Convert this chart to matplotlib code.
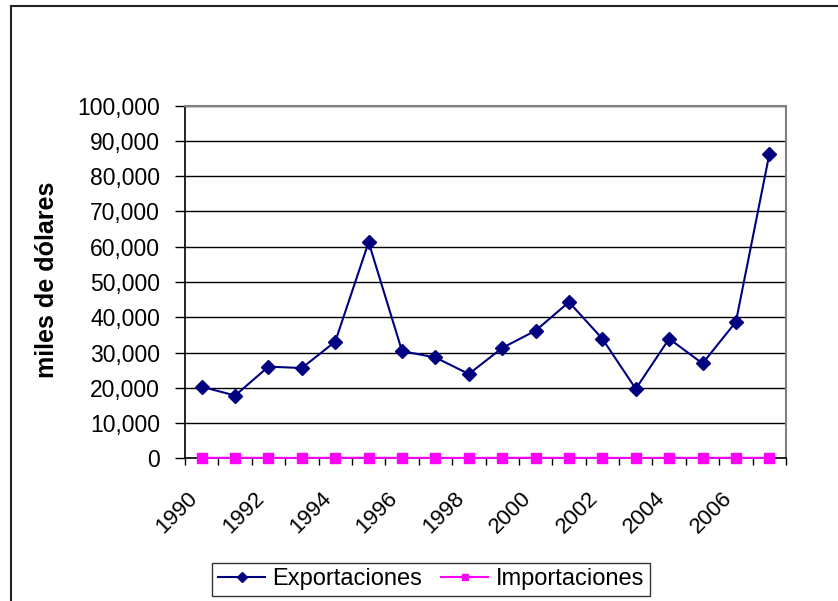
import matplotlib
matplotlib.use("Agg")
import matplotlib.pyplot as plt
from matplotlib.ticker import FuncFormatter
from matplotlib.patches import Rectangle
from matplotlib.transforms import ScaledTranslation

# Datos del grafico (miles de dolares)
anios = [1990, 1991, 1992, 1993, 1994, 1995, 1996, 1997, 1998,
         1999, 2000, 2001, 2002, 2003, 2004, 2005, 2006, 2007]
exportaciones = [20300, 17800, 26000, 25600, 33100, 61300, 30400, 28600, 23900,
                 31300, 36200, 44300, 33900, 19700, 33900, 26900, 38700, 86200]
importaciones = [120, 150, 130, 110, 140, 160, 120, 130, 100,
                 140, 150, 120, 130, 110, 140, 120, 150, 130]
etiquetas_y = list(range(0, 100001, 10000))

plt.rcParams['font.family'] = ['Liberation Sans', 'DejaVu Sans']

fig = plt.figure(figsize=(8.38, 6.01), dpi=100)
ax = fig.add_axes([185 / 838, 1 - 458.3 / 601, 601 / 838, 352.6 / 601])

# cadre exterieur (coupe a droite et en bas)
fig.patches.append(Rectangle((10.5 / 838, -0.1), 2, 1.1 - 5.5 / 601,
                             transform=fig.transFigure, fill=False,
                             edgecolor='#222222', linewidth=1.5))

x = [i + 0.5 for i in range(len(anios))]
ax.plot(x, exportaciones, color='#000080', marker='D', markersize=7,
        linewidth=1.5, label='Exportaciones', zorder=4)
ax.plot(x, importaciones, color='#FF00FF', marker='s', markersize=6.5,
        linewidth=1.5, label='Importaciones', zorder=3, clip_on=False)

ax.set_xlim(0, len(anios))
ax.set_ylim(0, 100000)
ax.set_yticks(etiquetas_y)
ax.yaxis.set_major_formatter(FuncFormatter(lambda v, p: '{:,.0f}'.format(v)))
ax.grid(axis='y', color='black', linewidth=1)
ax.set_axisbelow(True)

# ticks aux frontieres des categories, etiquettes une sur deux
ax.set_xticks(range(len(anios) + 1))
ax.set_xticklabels([])
ax.set_xticks(x[::2], minor=True)
ax.set_xticklabels([str(a) for a in anios[::2]], minor=True, rotation=45,
                   ha='right', va='top', fontsize=16)
decal = ScaledTranslation(-10 / 100, 0, fig.dpi_scale_trans)
for lab in ax.get_xticklabels(minor=True):
    lab.set_transform(lab.get_transform() + decal)
ax.tick_params(axis='x', which='minor', length=0, pad=21)
ax.tick_params(axis='x', which='major', direction='out', length=5, width=1)
ax.tick_params(axis='y', direction='out', length=7, width=1, labelsize=16.5, pad=11)

for s in ['top', 'right']:
    ax.spines[s].set_color('#808080')
    ax.spines[s].set_linewidth(1.5)
for s in ['left', 'bottom']:
    ax.spines[s].set_color('black')
    ax.spines[s].set_linewidth(1.2)

fig.text(47 / 838, 1 - 280 / 601, 'miles de dólares', rotation=90,
         ha='center', va='center', fontsize=18, fontweight='bold')

leg = fig.legend(loc='center', bbox_to_anchor=(431 / 838, 1 - 579.5 / 601),
                 ncol=2, fontsize=17, frameon=True, fancybox=False,
                 edgecolor='black', handlelength=2.0, handletextpad=0.3,
                 columnspacing=0.8, borderpad=0.25, markerscale=0.75)
leg.get_frame().set_linewidth(1)

plt.savefig('out.png', dpi=100)
